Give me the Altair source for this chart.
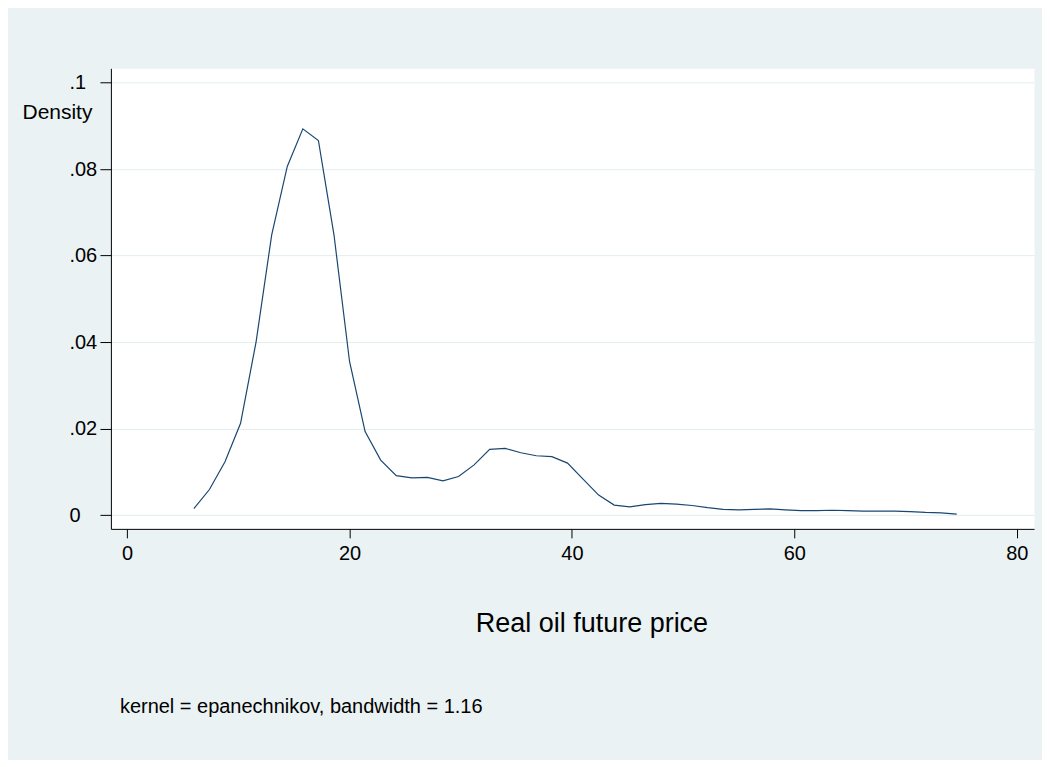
import altair as alt
import pandas as pd

# Kernel density estimate grid (Real oil future price) and density values
price = [6.0, 7.4, 8.8, 10.2, 11.6, 13.0, 14.4, 15.8, 17.2, 18.6,
         20.0, 21.4, 22.8, 24.2, 25.6, 27.0, 28.4, 29.8, 31.2, 32.6,
         34.0, 35.4, 36.8, 38.2, 39.6, 41.0, 42.4, 43.8, 45.2, 46.6,
         48.0, 49.4, 50.8, 52.2, 53.6, 55.0, 56.4, 57.8, 59.2, 60.6,
         62.0, 63.4, 64.8, 66.2, 67.6, 69.0, 70.4, 71.8, 73.2, 74.6]
density = [0.0015, 0.0059, 0.0123, 0.0212, 0.0401, 0.0648, 0.0806, 0.0893, 0.0866, 0.0648,
           0.0355, 0.0193, 0.0127, 0.0091, 0.0086, 0.0087, 0.0079, 0.0089, 0.0116, 0.0152,
           0.0154, 0.0144, 0.0137, 0.0135, 0.0120, 0.0083, 0.0046, 0.0023, 0.0019, 0.0024,
           0.0027, 0.0025, 0.0022, 0.0017, 0.0013, 0.0012, 0.0013, 0.0014, 0.0012, 0.0010,
           0.0010, 0.0011, 0.0010, 0.0009, 0.0009, 0.0009, 0.0008, 0.0006, 0.0005, 0.0002]
x_ticks = [0, 20, 40, 60, 80]
y_ticks = [0, 0.02, 0.04, 0.06, 0.08, 0.1]
note = ["kernel = epanechnikov, bandwidth = 1.16"]

df = pd.DataFrame({"price": price, "density": density})
note_df = pd.DataFrame({"note": note})

FONT = "Liberation Sans, Arial, Helvetica, sans-serif"
BG = "#EAF2F3"

line = alt.Chart(df).mark_line(color="#1a476f", strokeWidth=1.2).encode(
    x=alt.X("price:Q",
            scale=alt.Scale(domain=[-1.46, 81.55], nice=False, zero=False),
            axis=alt.Axis(values=x_ticks, title="Real oil future price",
                          grid=False, domainColor="black", tickColor="black",
                          tickSize=9, labelFontSize=20, labelPadding=6,
                          labelColor="black", labelFont=FONT,
                          titleFont=FONT, titleFontSize=27, titleFontWeight="normal",
                          titleColor="black", titleX=481, titleY=103,
                          titleAlign="center", titleBaseline="alphabetic")),
    y=alt.Y("density:Q",
            scale=alt.Scale(domain=[-0.0032, 0.1033], nice=False, zero=False),
            axis=alt.Axis(values=y_ticks, title="Density",
                          labelExpr="datum.value == 0 ? '0' : substring(format(datum.value, '.2~f'), 1)",
                          grid=True, gridColor="#E4EEEF", gridWidth=1,
                          domainColor="black", tickColor="black", tickSize=11,
                          labelAlign="left", labelPadding=31, labelBaseline="middle",
                          labelFontSize=20, labelColor="black", labelFont=FONT,
                          titleFont=FONT, titleFontSize=21, titleFontWeight="normal",
                          titleColor="black", titleAngle=0, titleX=-89, titleY=50,
                          titleAlign="left", titleBaseline="alphabetic")),
)

note_text = alt.Chart(note_df).mark_text(
    align="left", baseline="alphabetic", fontSize=20, font=FONT, color="black"
).encode(
    text="note:N",
    x=alt.value(9),
    y=alt.value(645),
)

chart = alt.layer(line, note_text).properties(
    width=924,
    height=461,
    background=BG,
    padding={"left": 103, "top": 60, "right": 8, "bottom": 231},
    autosize=alt.AutoSizeParams(type="none"),
).configure_view(
    fill="white", stroke="transparent"
)

chart.save("out.html", embed_options={"renderer": "svg", "actions": False})
